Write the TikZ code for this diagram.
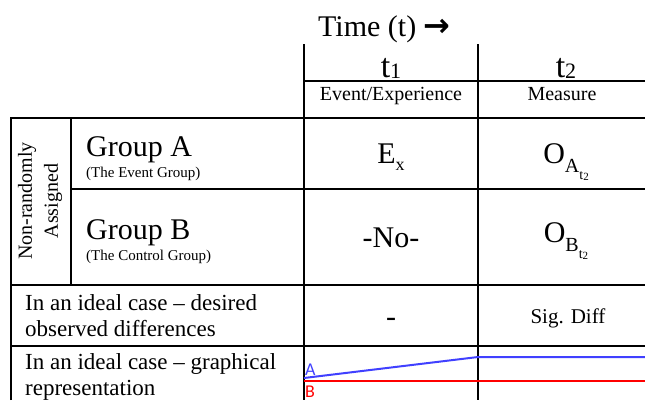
\documentclass[tikz,border=0pt]{standalone}
\usepackage{fontspec}
\setmainfont{Liberation Serif}
\newfontfamily\arrowfont{DejaVu Sans}
\newfontfamily\graphfont{Carlito}
\usetikzlibrary{positioning}
\definecolor{lineA}{RGB}{64,64,255}
\definecolor{lineB}{RGB}{255,0,0}
\newcommand{\fsz}[2]{\fontsize{#1}{#2}\selectfont}
\newcommand{\lowsub}[3]{\raisebox{-#1pt}{\fsz{#2}{#2}#3}}

\begin{document}
\begin{tikzpicture}[x=1pt,y=-1pt,
  grid/.style={line width=1.8pt},
  cell/.style={inner sep=0pt,anchor=base},
  big/.style={font=\fsz{30}{30}},
  small/.style={font=\fsz{20}{20}},
  rowhead/.style={inner sep=0pt,anchor=west,align=left,font=\fsz{23}{26}},
  graphlabel/.style={inner sep=0pt,font=\graphfont\fsz{18}{18}}]
  \useasboundingbox (0,0) rectangle (645,400);
  \draw[grid] (304,44) -- (304,400) (478,44) -- (478,400);
  \draw[grid] (304,81) -- (645,81);
  \draw[grid] (11,400) -- (11,118) -- (645,118);
  \draw[grid] (71,118) -- (71,285);
  \draw[grid] (71,189) -- (645,189);
  \draw[grid] (11,285) -- (645,285) (11,346) -- (645,346);

  \node[cell,big,anchor=base west] (time) at (318,36) {Time (t) {\arrowfont\bfseries\fsz{32}{32}→}};
  \node[cell,font=\fsz{34}{34}] (tone) at (391,77) {t\lowsub{1}{22}{1}};
  \node[cell,font=\fsz{34}{34}] (ttwo) at (566,77) {t\lowsub{1}{22}{2}};
  \node[cell,small] (event) at (391,100) {Event/Experience};
  \node[cell,small] (measure) at (562,100) {Measure};

  \node[rotate=90,align=center,inner sep=0pt,font=\fsz{20}{26}] (assigned) at (40,201) {Non-randomly\\Assigned};
  \node[cell,big,anchor=base west] (groupa) at (86,156) {Group A};
  \node[cell,font=\fsz{15}{15},anchor=base west] (groupanote) at (86,177) {(The Event Group)};
  \node[cell,big,anchor=base west] (groupb) at (86,239) {Group B};
  \node[cell,font=\fsz{15}{15},anchor=base west] (groupbnote) at (86,260) {(The Control Group)};

  \node[cell,big] (ex) at (391,163) {E\lowsub{7}{18}{x}};
  \node[cell,big] (oa) at (566,163) {O\lowsub{9}{20}{A\lowsub{7}{14}{t\lowsub{1}{11}{2}}}};
  \node[cell,big] (none) at (391,247) {-No-};
  \node[cell,big] (ob) at (566,242) {O\lowsub{9}{20}{B\lowsub{7}{14}{t\lowsub{1}{11}{2}}}};

  \node[rowhead] (desired) at (25,316) {In an ideal case -- desired\\observed differences};
  \node[cell,big] (nodiff) at (391,326) {-};
  \node[cell,font=\fsz{21}{21}] (sigdiff) at (568,323) {Sig. Diff};

  \node[rowhead] (graphical) at (25,377) {In an ideal case -- graphical\\representation};
  \coordinate (astart) at (304,378);
  \coordinate (amid) at (478,357);
  \coordinate (aend) at (645,357);
  \coordinate (bstart) at (304,381);
  \coordinate (bend) at (645,381);
  \draw[lineA,line width=2pt] (astart) -- (amid) -- (aend);
  \draw[lineB,line width=2pt] (bstart) -- (bend);
  \node[graphlabel,text=lineA,anchor=base west] (alabel) at (305,375) {A};
  \node[graphlabel,text=lineB,anchor=base west] (blabel) at (305,397) {B};
\end{tikzpicture}
\end{document}
